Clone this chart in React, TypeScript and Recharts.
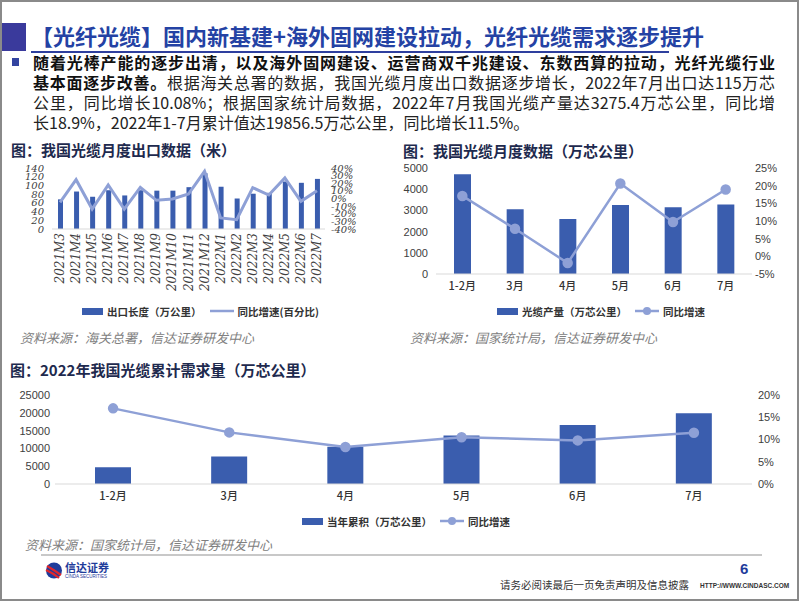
import React from "react";
import { Bar, ComposedChart, Line, XAxis, YAxis } from "recharts";

// 图1：我国光缆月度出口数据
const exportMonths = [
  "2021M3", "2021M4", "2021M5", "2021M6", "2021M7", "2021M8", "2021M9", "2021M10", "2021M11",
  "2021M12", "2022M1", "2022M2", "2022M3", "2022M4", "2022M5", "2022M6", "2022M7",
];
const exportLength = [68, 86, 74, 89, 77, 89, 88, 88, 96, 128, 97, 70, 81, 83, 109, 106, 115];
const exportYoY = [
  -0.05, 0.247, -0.138, 0.177, -0.138, 0.146, -0.024, -0.007, 0.059, 0.356, -0.255, -0.277, 0.142,
  0.046, 0.269, -0.037, 0.1008,
];
const exportLengthTicks = [0, 20, 40, 60, 80, 100, 120, 140];
const exportYoYTicks = [-0.4, -0.3, -0.2, -0.1, 0, 0.1, 0.2, 0.3, 0.4];

// 图2：我国光缆月度数据
const monthLabels = ["1-2月", "3月", "4月", "5月", "6月", "7月"];
const cableOutput = [4700, 3050, 2600, 3250, 3150, 3275.4];
const cableOutputYoY = [0.171, 0.078, -0.019, 0.206, 0.097, 0.189];
const cableOutputTicks = [0, 1000, 2000, 3000, 4000, 5000];
const cableOutputYoYTicks = [-0.05, 0, 0.05, 0.1, 0.15, 0.2, 0.25];

// 图3：2022年我国光缆累计需求量
const cumulativeDemand = [4700, 7750, 10450, 13600, 16600, 19856.5];
const cumulativeYoY = [0.17, 0.116, 0.083, 0.105, 0.098, 0.115];
const cumulativeTicks = [0, 5000, 10000, 15000, 20000, 25000];
const cumulativeYoYTicks = [0, 0.05, 0.1, 0.15, 0.2];

const BAR = "#3A5DAE";
const LINE = "#8EA0D6";
const AXIS = "#D9D9D9";
const CJK = '"Noto Sans CJK SC", sans-serif';

const pct = (v: number) => `${Math.round(v * 100)}%`;

const exportData = exportMonths.map((m, i) => ({ month: m, length: exportLength[i], yoy: exportYoY[i] }));
const outputData = monthLabels.map((m, i) => ({ month: m, output: cableOutput[i], yoy: cableOutputYoY[i] }));
const demandData = monthLabels.map((m, i) => ({ month: m, demand: cumulativeDemand[i], yoy: cumulativeYoY[i] }));

const italicTick = { fontSize: 10, fill: "#404040", fontStyle: "italic", fontFamily: '"DejaVu Serif", serif' };
const numTick = { fontSize: 11, fill: "#404040", fontFamily: '"Liberation Sans", sans-serif' };
const catTick = { fontSize: 11, fill: "#333", fontFamily: CJK, fontWeight: 500 };

function RotatedTick(props: any) {
  const { x, y, payload } = props;
  return (
    <text
      x={x}
      y={y}
      transform={`rotate(-90, ${x}, ${y})`}
      textAnchor="end"
      dominantBaseline="central"
      {...italicTick}
      fontSize={12}
    >
      {payload.value}
    </text>
  );
}

function BarSwatch() {
  return <span style={{ display: "inline-block", width: 21, height: 7, background: BAR, marginRight: 4 }} />;
}

function LineSwatch({ dot }: { dot?: boolean }) {
  return (
    <svg width={24} height={10} style={{ marginRight: 4, marginLeft: 8 }}>
      <line x1={0} y1={5} x2={24} y2={5} stroke={LINE} strokeWidth={2.5} />
      {dot && <circle cx={12} cy={5} r={4} fill={LINE} />}
    </svg>
  );
}

function Legend({ left, top, barText, lineText, dot }: any) {
  return (
    <div
      style={{
        position: "absolute", left, top, display: "flex", alignItems: "center",
        fontSize: 10.5, fontFamily: CJK, fontWeight: 600, color: "#333", whiteSpace: "nowrap", height: 14,
      }}
    >
      <BarSwatch />
      <span>{barText}</span>
      <LineSwatch dot={dot} />
      <span>{lineText}</span>
    </div>
  );
}

function Text({ left, top, size, style, children }: any) {
  return (
    <div style={{ position: "absolute", left, top, fontSize: size, whiteSpace: "nowrap", lineHeight: 1.2, ...style }}>
      {children}
    </div>
  );
}

const chartTitle = { fontWeight: 700, color: "#1E2A4E", fontFamily: CJK };
const source = { fontStyle: "italic", color: "#808080", fontFamily: CJK };

const lineStyle = { lineHeight: "20px", height: 20, fontSize: 16, whiteSpace: "nowrap" as const };

export default function App() {
  return (
    <div
      style={{
        position: "absolute", left: 0, top: 0, width: 802, height: 602, background: "#fff",
        overflow: "hidden", fontFamily: CJK,
      }}
    >
      <div
        style={{
          position: "absolute", left: 0, top: 0, width: 799, height: 601,
          border: "2px solid #8a8a8a", boxSizing: "border-box",
        }}
      />

      {/* header */}
      <div style={{ position: "absolute", left: 2, top: 23, width: 24, height: 28, background: "#3A3A9C" }} />
      <Text left={31} top={22} size={22} style={{ color: "#2442A4", fontWeight: 600 }}>
        【光纤光缆】国内新基建+海外固网建设拉动，光纤光缆需求逐步提升
      </Text>
      <div style={{ position: "absolute", left: 31, top: 51, width: 638, height: 1.5, background: "#2E3F9E" }} />

      {/* bullet */}
      <div style={{ position: "absolute", left: 12, top: 58, width: 7, height: 8, background: "#3344A0" }} />
      <div style={{ position: "absolute", left: 33, top: 52, width: 742, color: "#222" }}>
        <div style={{ ...lineStyle, textAlign: "justify", textAlignLast: "justify", fontWeight: 700, color: "#111" }}>
          随着光棒产能的逐步出清，以及海外固网建设、运营商双千兆建设、东数西算的拉动，光纤光缆行业
        </div>
        <div style={{ ...lineStyle, textAlign: "justify", textAlignLast: "justify" }}>
          <b style={{ color: "#111" }}>基本面逐步改善。</b>根据海关总署的数据，我国光缆月度出口数据逐步增长，2022年7月出口达115万芯
        </div>
        <div style={{ ...lineStyle, textAlign: "justify", textAlignLast: "justify" }}>
          公里，同比增长10.08%；根据国家统计局数据，2022年7月我国光缆产量达3275.4万芯公里，同比增
        </div>
        <div style={{ ...lineStyle }}>长18.9%，2022年1-7月累计值达19856.5万芯公里，同比增长11.5%。</div>
      </div>

      {/* chart 1 */}
      <Text left={11} top={141} size={15} style={chartTitle}>图：我国光缆月度出口数据（米）</Text>
      <div style={{ position: "absolute", left: 0, top: 160 }}>
        <ComposedChart width={370} height={150} data={exportData} margin={{ top: 8, right: 0, bottom: 0, left: 0 }}>
          <XAxis
            dataKey="month" height={81} interval={0} tickLine={false} tickSize={0} tickMargin={4}
            axisLine={{ stroke: AXIS }} tick={<RotatedTick />}
          />
          <YAxis
            yAxisId="l" width={52} domain={[0, 140]} ticks={exportLengthTicks} interval={0}
            axisLine={false} tickLine={false} tick={italicTick}
          />
          <YAxis
            yAxisId="r" orientation="right" width={45} domain={[-0.4, 0.4]} ticks={exportYoYTicks}
            interval={0} axisLine={false} tickLine={false} tickSize={0} tickMargin={6}
            tickFormatter={pct} tick={italicTick}
          />
          <Bar yAxisId="l" dataKey="length" fill={BAR} barSize={5} isAnimationActive={false} />
          <Line
            yAxisId="r" type="linear" dataKey="yoy" stroke={LINE} strokeWidth={3} dot={false}
            isAnimationActive={false}
          />
        </ComposedChart>
      </div>
      <Legend left={82} top={304} barText="出口长度（万公里）" lineText="同比增速(百分比)" />
      <Text left={20} top={330} size={13} style={source}>资料来源：海关总署，信达证券研发中心</Text>

      {/* chart 2 */}
      <Text left={403} top={142} size={15} style={chartTitle}>图：我国光缆月度数据（万芯公里）</Text>
      <div style={{ position: "absolute", left: 400, top: 160 }}>
        <ComposedChart width={400} height={140} data={outputData} margin={{ top: 8, right: 0, bottom: 0, left: 0 }}>
          <XAxis
            dataKey="month" height={26} interval={0} tickLine={false} axisLine={{ stroke: AXIS }} tick={catTick}
          />
          <YAxis
            yAxisId="l" width={36} domain={[0, 5000]} ticks={cableOutputTicks} interval={0}
            axisLine={false} tickLine={false} tick={numTick}
          />
          <YAxis
            yAxisId="r" orientation="right" width={48} domain={[-0.05, 0.25]} ticks={cableOutputYoYTicks}
            interval={0} axisLine={false} tickLine={false} tickSize={0} tickMargin={3}
            tickFormatter={pct} tick={numTick}
          />
          <Bar yAxisId="l" dataKey="output" fill={BAR} barSize={17} isAnimationActive={false} />
          <Line
            yAxisId="r" type="linear" dataKey="yoy" stroke={LINE} strokeWidth={2.5}
            dot={{ r: 4, fill: LINE, stroke: LINE }} isAnimationActive={false}
          />
        </ComposedChart>
      </div>
      <Legend left={497} top={304} barText="光缆产量（万芯公里）" lineText="同比增速" dot />
      <Text left={410} top={330} size={13} style={source}>资料来源：国家统计局，信达证券研发中心</Text>

      {/* chart 3 */}
      <Text left={10} top={361} size={15} style={chartTitle}>图：2022年我国光缆累计需求量（万芯公里）</Text>
      <div style={{ position: "absolute", left: 0, top: 385 }}>
        <ComposedChart width={802} height={125} data={demandData} margin={{ top: 10, right: 0, bottom: 0, left: 0 }}>
          <XAxis
            dataKey="month" height={26} interval={0} tickLine={false} axisLine={{ stroke: AXIS }} tick={catTick}
          />
          <YAxis
            yAxisId="l" width={55} domain={[0, 25000]} ticks={cumulativeTicks} interval={0}
            axisLine={false} tickLine={false} tickSize={0} tickMargin={5} tick={numTick}
          />
          <YAxis
            yAxisId="r" orientation="right" width={50} domain={[0, 0.2]} ticks={cumulativeYoYTicks}
            interval={0} axisLine={false} tickLine={false} tickSize={0} tickMargin={6}
            tickFormatter={pct} tick={numTick}
          />
          <Bar yAxisId="l" dataKey="demand" fill={BAR} barSize={36} isAnimationActive={false} />
          <Line
            yAxisId="r" type="linear" dataKey="yoy" stroke={LINE} strokeWidth={2.5}
            dot={{ r: 4, fill: LINE, stroke: LINE }} isAnimationActive={false}
          />
        </ComposedChart>
      </div>
      <Legend left={302} top={514} barText="当年累积（万芯公里）" lineText="同比增速" dot />
      <Text left={25} top={537} size={13} style={source}>资料来源：国家统计局，信达证券研发中心</Text>

      {/* footer */}
      <div style={{ position: "absolute", left: 41, top: 554, width: 721, height: 2, background: "#C8C8C8" }} />
      <svg style={{ position: "absolute", left: 45, top: 562 }} width={18} height={17}>
        <circle cx={9} cy={8.5} r={8} fill="#1F3C9B" />
        <path d="M2 4 Q9 8 16 13" stroke="#E0262B" strokeWidth={2.2} fill="none" />
        <path d="M1 8 Q8 11 14 16" stroke="#E0262B" strokeWidth={2.2} fill="none" />
      </svg>
      <Text left={65} top={562} size={11} style={{ color: "#1F3C9B", fontWeight: 700, lineHeight: 1 }}>信达证券</Text>
      <Text left={65} top={575} size={4.5} style={{ color: "#1F3C9B", fontFamily: '"Liberation Sans", sans-serif', lineHeight: 1 }}>
        CINDA SECURITIES
      </Text>
      <Text left={740} top={560} size={15} style={{ color: "#1F3C9B", fontWeight: 700, fontFamily: '"Liberation Sans", sans-serif' }}>
        6
      </Text>
      <Text left={500} top={579} size={10.5} style={{ color: "#333" }}>请务必阅读最后一页免责声明及信息披露</Text>
      <Text
        left={700} top={582} size={6.5}
        style={{ color: "#333", fontWeight: 700, fontFamily: '"Liberation Sans Narrow", "Liberation Sans", sans-serif' }}
      >
        HTTP://WWW.CINDASC.COM
      </Text>
    </div>
  );
}
